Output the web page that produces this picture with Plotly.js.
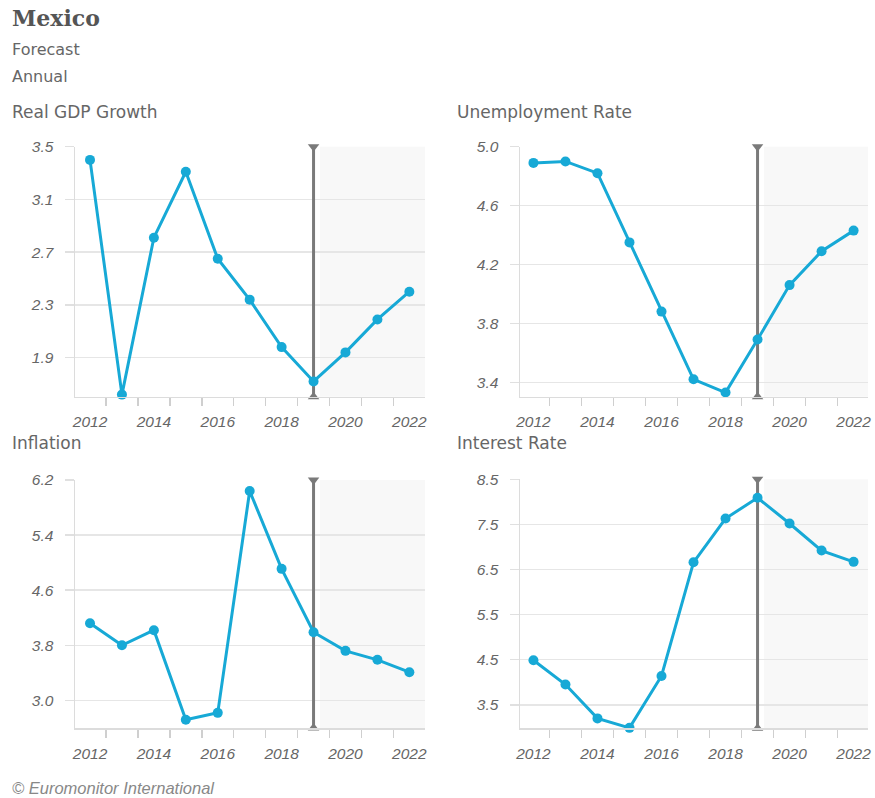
<!DOCTYPE html>
<html>
<head>
<meta charset="utf-8">
<script src="https://cdn.plot.ly/plotly-3.0.1.min.js"></script>
<style>html,body{margin:0;padding:0;background:#fff;}#chart{width:875px;height:798px;}</style>
</head>
<body>
<div id="chart"></div>
<script>
// ---- data ----
const years = [2012, 2013, 2014, 2015, 2016, 2017, 2018, 2019, 2020, 2021, 2022];
const forecastStart = 2019;
const gdpGrowth = [3.40, 1.62, 2.81, 3.31, 2.65, 2.34, 1.98, 1.72, 1.94, 2.19, 2.40];
const unemployment = [4.89, 4.90, 4.82, 4.35, 3.88, 3.42, 3.33, 3.69, 4.06, 4.29, 4.43];
const inflation = [4.12, 3.80, 4.02, 2.72, 2.82, 6.04, 4.91, 3.99, 3.72, 3.59, 3.41];
const interestRate = [4.49, 3.95, 3.20, 2.99, 4.14, 6.66, 7.63, 8.09, 7.52, 6.92, 6.67];
const xTickLabels = ['2012', '2014', '2016', '2018', '2020', '2022'];
const panelTitles = ['Real GDP Growth', 'Unemployment Rate', 'Inflation', 'Interest Rate'];

// ---- layout helpers ----
const W = 875, H = 798;
const px = v => v / W;
const py = v => 1 - v / H;
const LINE = '#17a9d6';
const TICK_FONT = {family: 'Liberation Sans, Arial, sans-serif', size: 15.5, color: '#666', style: 'italic'};
const TEXT_FONT = {family: 'DejaVu Sans, sans-serif', size: 16, color: '#666'};

const panels = [
  {values: gdpGrowth,    x: [75, 425],  y: [146.7, 396.7], yr: [1.604, 3.5], t0: 1.9, dt: 0.4, xr: [2011.53, 2022.49], title: [10, 112]},
  {values: unemployment, x: [520, 868], y: [146.7, 396.7], yr: [3.302, 5.0], t0: 3.4, dt: 0.4, xr: [2011.58, 2022.45], title: [455, 112]},
  {values: inflation,    x: [75, 425],  y: [480, 728],     yr: [2.60, 6.2],  t0: 3.0, dt: 0.8, xr: [2011.53, 2022.49], title: [10, 443]},
  {values: interestRate, x: [520, 868], y: [479.3, 728.3], yr: [2.98, 8.5],  t0: 3.5, dt: 1.0, xr: [2011.58, 2022.45], title: [455, 443]}
];

const traces = [];
const shapes = [];
const annotations = [];
const layout = {
  width: W, height: H,
  margin: {l: 0, r: 0, t: 0, b: 0},
  paper_bgcolor: '#fff', plot_bgcolor: 'rgba(0,0,0,0)',
  showlegend: false,
  shapes: shapes, annotations: annotations
};

panels.forEach((p, i) => {
  const n = i === 0 ? '' : String(i + 1);
  const xa = 'x' + n, ya = 'y' + n;
  const labelAxis = 'x' + (i + 5);
  // base x axis: tick marks on the boundaries between years, no labels
  layout['xaxis' + n] = {
    domain: [px(p.x[0]), px(p.x[1])], anchor: ya,
    range: p.xr, tickmode: 'linear', tick0: years[0] + 0.5, dtick: 1,
    ticks: 'outside', ticklen: 8, tickcolor: '#cfcfcf', tickwidth: 1.5,
    showticklabels: false, showgrid: false, zeroline: false,
    showline: true, linecolor: '#dcdcdc', linewidth: 1.5,
    fixedrange: true
  };
  // overlay x axis: year labels centred on the points
  layout['xaxis' + (i + 5)] = {
    overlaying: xa, anchor: ya, side: 'bottom',
    range: p.xr, tickmode: 'array',
    tickvals: xTickLabels.map(Number), ticktext: xTickLabels,
    ticks: '', showgrid: false, zeroline: false, showline: false,
    tickfont: TICK_FONT, ticklabelstandoff: 14,
    fixedrange: true
  };
  layout['yaxis' + n] = {
    domain: [py(p.y[1]), py(p.y[0])], anchor: xa,
    range: p.yr, tickmode: 'linear', tick0: p.t0, dtick: p.dt, tickformat: '.1f',
    ticks: 'outside', ticklen: 9, tickcolor: '#e0e0e0', tickwidth: 1.5,
    showgrid: true, gridcolor: '#e6e6e6', gridwidth: 1.5, zeroline: false,
    showline: true, linecolor: '#dcdcdc', linewidth: 1.5,
    tickfont: TICK_FONT, ticklabelstandoff: 8,
    fixedrange: true
  };
  // forecast shading
  shapes.push({type: 'rect', layer: 'below', xref: xa, yref: ya + ' domain',
    x0: forecastStart + 0.2, x1: p.xr[1], y0: 0, y1: 1,
    fillcolor: '#f8f8f8', line: {width: 0}});
  // invisible trace that activates the label axis
  traces.push({type: 'scatter', mode: 'markers', xaxis: labelAxis, yaxis: ya,
    x: years, y: p.values, marker: {opacity: 0, size: 1}, hoverinfo: 'skip'});
  // forecast divider line
  traces.push({type: 'scatter', mode: 'lines', xaxis: xa, yaxis: ya,
    x: [forecastStart, forecastStart], y: [p.yr[0], p.yr[1]],
    line: {color: '#7a7a7a', width: 3}, hoverinfo: 'skip', cliponaxis: false});
  // data series
  traces.push({type: 'scatter', mode: 'lines+markers', xaxis: xa, yaxis: ya,
    x: years, y: p.values,
    line: {color: LINE, width: 3}, marker: {color: LINE, size: 10},
    cliponaxis: false});
  annotations.push({text: panelTitles[i], xref: 'paper', yref: 'paper',
    x: px(p.title[0]), y: py(p.title[1]), xanchor: 'left', yanchor: 'middle',
    showarrow: false, font: Object.assign({}, TEXT_FONT, {size: 17})});
});

// triangle end caps of the forecast divider, drawn last so they sit above the axis lines
panels.forEach((p, i) => {
  const n = i === 0 ? '' : String(i + 1);
  traces.push({type: 'scatter', mode: 'markers', xaxis: 'x' + n, yaxis: 'y' + n,
    x: [forecastStart, forecastStart], y: [p.yr[1], p.yr[0]],
    marker: {symbol: ['triangle-down', 'triangle-up'], size: 10, color: '#7a7a7a'},
    hoverinfo: 'skip', cliponaxis: false});
});

annotations.push({text: 'Mexico', xref: 'paper', yref: 'paper', x: px(10), y: py(18),
  xanchor: 'left', yanchor: 'middle', showarrow: false,
  font: {family: 'DejaVu Serif, serif', size: 22, color: '#555', weight: 'bold'}});
annotations.push({text: 'Forecast', xref: 'paper', yref: 'paper', x: px(10), y: py(50),
  xanchor: 'left', yanchor: 'middle', showarrow: false, font: TEXT_FONT});
annotations.push({text: 'Annual', xref: 'paper', yref: 'paper', x: px(10), y: py(77),
  xanchor: 'left', yanchor: 'middle', showarrow: false, font: TEXT_FONT});
annotations.push({text: '© Euromonitor International', xref: 'paper', yref: 'paper', x: px(10), y: py(788),
  xanchor: 'left', yanchor: 'middle', showarrow: false,
  font: {family: 'Liberation Sans, Arial, sans-serif', size: 16.5, color: '#888', style: 'italic'}});

Plotly.newPlot('chart', traces, layout, {displayModeBar: false, staticPlot: true});
</script>
</body>
</html>
